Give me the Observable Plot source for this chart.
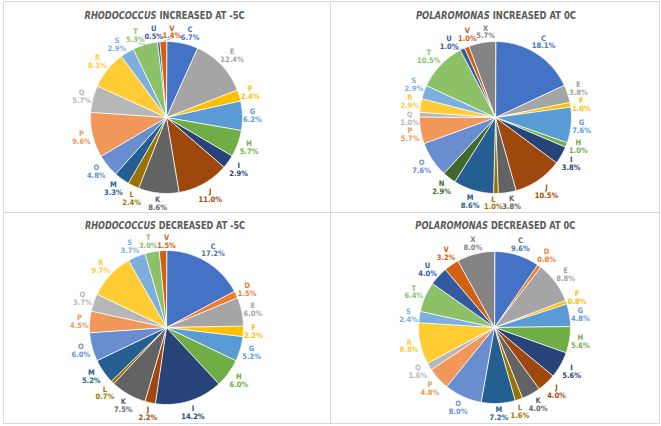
<!DOCTYPE html>
<html>
<head>
<meta charset="utf-8">
<script src="https://cdn.jsdelivr.net/npm/d3@7"></script>
<script src="https://cdn.jsdelivr.net/npm/@observablehq/plot@0.6"></script>
<style>
  html, body { margin: 0; padding: 0; background: #fff; }
  #root { position: relative; width: 661px; height: 426px; overflow: hidden; font-family: "Liberation Sans Narrow", "DejaVu Sans Condensed", "Liberation Sans", sans-serif; }
  .panel { position: absolute; }
  .title { position: absolute; left: 0; width: 100%; text-align: center; font-size: 10.5px; font-weight: bold; color: #595959; white-space: nowrap; }
  .title span { display: inline-block; transform-origin: 50% 50%; }
  .title i { font-style: italic; }
  .rule { position: absolute; background: #d9d9d9; }
</style>
</head>
<body>
<div id="root"></div>
<script>
// ---- data ----
const letters = ["C","D","E","F","G","H","I","J","K","L","M","N","O","P","Q","R","S","T","U","V","X"];
const palette = ["#4472C4","#ED7D31","#A5A5A5","#FFC000","#5B9BD5","#70AD47","#264478","#9E480E","#636363","#997300","#255E91","#43682B","#698ED0","#F1975A","#B7B7B7","#FFCD33","#7CAFDD","#8CC168","#335AA1","#D26012","#848484"];

const rhodoIncCats = ["C","E","F","G","H","I","J","K","L","M","O","P","Q","R","S","T","U","V"];
const rhodoIncVals = [6.7,12.4,2.4,6.2,5.7,2.9,11.0,8.6,2.4,3.3,4.8,9.6,5.7,8.1,2.9,5.3,0.5,1.4];

const polarIncCats = ["C","E","F","G","H","I","J","K","L","M","N","O","P","Q","R","S","T","U","V","X"];
const polarIncVals = [18.1,3.8,1.0,7.6,1.0,3.8,10.5,3.8,1.0,8.6,2.9,7.6,5.7,1.0,2.9,2.9,10.5,1.0,1.0,5.7];

const rhodoDecCats = ["C","D","E","F","G","H","I","J","K","L","M","O","P","Q","R","S","T","V"];
const rhodoDecVals = [17.2,1.5,6.0,2.2,5.2,6.0,14.2,2.2,7.5,0.7,5.2,6.0,4.5,3.7,9.7,3.7,3.0,1.5];

const polarDecCats = ["C","D","E","F","G","H","I","J","K","L","M","O","P","Q","R","S","T","U","V","X"];
const polarDecVals = [9.6,0.8,8.8,0.8,4.8,5.6,5.6,4.0,4.0,1.6,7.2,8.0,4.8,1.6,8.8,2.4,6.4,4.0,3.2,8.0];

const genusNames = ["RHODOCOCCUS","POLAROMONAS","RHODOCOCCUS","POLAROMONAS"];
const titleRests = [" INCREASED AT -5C"," INCREASED AT 0C"," DECREASED AT -5C"," DECREASED AT 0C"];

// ---- layout ----
const root = document.getElementById("root");
const panels = [
  {cats: rhodoIncCats, vals: rhodoIncVals, left: 0,   top: 0,   w: 330, h: 212, cx: 166, cy: 117, r: 76, ty: 9},
  {cats: polarIncCats, vals: polarIncVals, left: 330, top: 0,   w: 331, h: 212, cx: 165, cy: 117, r: 76, ty: 9},
  {cats: rhodoDecCats, vals: rhodoDecVals, left: 0,   top: 212, w: 330, h: 214, cx: 166, cy: 115, r: 77, ty: 7},
  {cats: polarDecCats, vals: polarDecVals, left: 330, top: 212, w: 331, h: 214, cx: 164, cy: 115, r: 76, ty: 7}
];
const GAP = 1.5, BH = 15.5;

function rho(r, theta, bw) {
  return r + GAP + Math.abs(Math.sin(theta)) * bw / 2 + Math.abs(Math.cos(theta)) * BH / 2;
}
function layoutLabels(labels, r) {
  labels.sort((a, b) => a.theta - b.theta);
  const n = labels.length;
  const step = 0.15 * Math.PI / 180;
  for (let it = 0; it < 800; it++) {
    let moved = false;
    for (let i = 0; i < n; i++) {
      const a = labels[i], b = labels[(i + 1) % n];
      let tb = b.theta; if (i === n - 1) tb += 2 * Math.PI;
      const ra = rho(r, a.theta, a.bw), rb = rho(r, tb, b.bw);
      const ax = ra * Math.sin(a.theta), ay = -ra * Math.cos(a.theta);
      const bx = rb * Math.sin(tb), by = -rb * Math.cos(tb);
      if (Math.abs(ax - bx) < (a.bw + b.bw) / 2 + 1.5 && Math.abs(ay - by) < BH + 1) {
        a.theta -= step; b.theta += step; moved = true;
      }
    }
    if (!moved) break;
  }
}

panels.forEach((p, idx) => {
  const div = document.createElement("div");
  div.className = "panel";
  div.style.left = p.left + "px"; div.style.top = p.top + "px";
  div.style.width = p.w + "px"; div.style.height = p.h + "px";

  const arcs = d3.pie().sort(null).value(d => d.v)(p.cats.map((c, i) => ({c, v: p.vals[i]})));
  const pts = [];
  const labels = [];
  for (const a of arcs) {
    const span = a.endAngle - a.startAngle;
    const n = Math.max(2, Math.ceil(span / (Math.PI / 180)));
    pts.push({c: a.data.c, x: 0, y: 0});
    for (let k = 0; k <= n; k++) {
      const t = a.startAngle + span * k / n;
      pts.push({c: a.data.c, x: Math.sin(t), y: Math.cos(t)});
    }
    const mid = (a.startAngle + a.endAngle) / 2;
    const pct = a.data.v.toFixed(1) + "%";
    labels.push({c: a.data.c, p: pct, mid, theta: mid, bw: pct.length * 3.9 + 1});
  }
  layoutLabels(labels, p.r);
  const leaders = [];
  for (const l of labels) {
    const rr = rho(p.r, l.theta, l.bw) / p.r;
    l.x = rr * Math.sin(l.theta); l.y = rr * Math.cos(l.theta);
    if (Math.abs(l.theta - l.mid) > 4 * Math.PI / 180) {
      const re = (p.r + GAP + 2) / p.r;
      leaders.push({x1: Math.sin(l.mid), y1: Math.cos(l.mid), x2: re * Math.sin(l.theta), y2: re * Math.cos(l.theta)});
    }
  }

  const chart = Plot.plot({
    width: p.w, height: p.h, margin: 0,
    style: {background: "transparent", fontFamily: '"Liberation Sans Narrow", "DejaVu Sans Condensed", sans-serif'},
    x: {domain: [-1, 1], range: [p.cx - p.r, p.cx + p.r], axis: null},
    y: {domain: [-1, 1], range: [p.cy + p.r, p.cy - p.r], axis: null},
    color: {domain: letters, range: palette},
    marks: [
      Plot.line(pts, {x: "x", y: "y", z: "c", fill: "c", stroke: "white", strokeWidth: 0.8, curve: "linear-closed"}),
      Plot.link(leaders, {x1: "x1", y1: "y1", x2: "x2", y2: "y2", stroke: "#a6a6a6", strokeWidth: 0.8}),
      Plot.text(labels, {x: "x", y: "y", text: d => d.c + "\n" + d.p, fill: "c", fontSize: 7.5, fontWeight: "bold", lineHeight: 1.05})
    ]
  });
  chart.style.position = "absolute"; chart.style.left = "0"; chart.style.top = "0";
  div.appendChild(chart);

  const t = document.createElement("div");
  t.className = "title";
  t.style.top = p.ty + "px";
  t.innerHTML = "<span><i>" + genusNames[idx] + "</i>" + titleRests[idx] + "</span>";
  div.appendChild(t);
  root.appendChild(div);
  const s = t.querySelector("span");
  const wNow = s.getBoundingClientRect().width;
  if (wNow > 0) s.style.transform = "scaleX(" + (160 / wNow) + ")";
});

// panel rules
[[3, 1, 657, 1], [3, 423, 657, 1], [3, 1, 1, 423], [659, 1, 1, 423], [330, 1, 1, 423], [3, 212, 657, 1]].forEach(([x, y, w, h]) => {
  const r = document.createElement("div");
  r.className = "rule";
  r.style.left = x + "px"; r.style.top = y + "px"; r.style.width = w + "px"; r.style.height = h + "px";
  root.appendChild(r);
});
</script>
</body>
</html>
